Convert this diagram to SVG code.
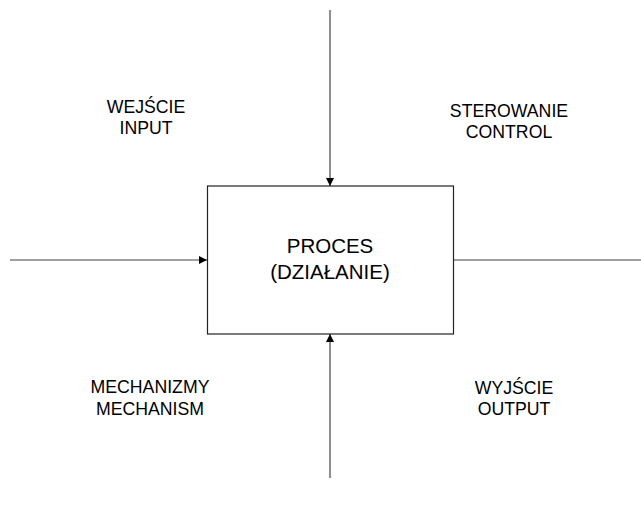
<svg xmlns="http://www.w3.org/2000/svg" width="641" height="506" viewBox="0 0 641 506">
<defs>
<marker id="arr" viewBox="0 0 10 10" refX="10" refY="5" markerWidth="8" markerHeight="8" markerUnits="userSpaceOnUse" orient="auto">
<path d="M0,0 L10,5 L0,10 z" fill="#000"/>
</marker>
<style>
.lbl{font-family:"Liberation Sans",Arial,sans-serif;font-size:17.7px;fill:#000;text-anchor:middle}
.main{font-family:"Liberation Sans",Arial,sans-serif;font-size:20.5px;fill:#000;text-anchor:middle}
.con{stroke:#444;stroke-width:1.2;fill:none}
</style>
</defs>
<rect width="641" height="506" fill="#fff"/>
<g id="connectors">
<line class="con" x1="10" y1="260" x2="207" y2="260" marker-end="url(#arr)"/>
<line class="con" x1="453" y1="260" x2="641" y2="260"/>
<line class="con" x1="330" y1="10" x2="330" y2="186" marker-end="url(#arr)"/>
<line class="con" x1="330" y1="478" x2="330" y2="334" marker-end="url(#arr)"/>
</g>
<g id="process">
<rect x="207.5" y="186" width="246" height="148" fill="#fff" stroke="#222" stroke-width="1.2"/>
<text class="main" x="330" y="253">PROCES</text>
<text class="main" x="330" y="279">(DZIAŁANIE)</text>
</g>
<g id="input">
<text class="lbl" x="146" y="113">WEJŚCIE</text>
<text class="lbl" x="146" y="134">INPUT</text>
</g>
<g id="control">
<text class="lbl" x="509" y="117">STEROWANIE</text>
<text class="lbl" x="509" y="138">CONTROL</text>
</g>
<g id="mechanism">
<text class="lbl" x="150" y="393">MECHANIZMY</text>
<text class="lbl" x="150" y="415">MECHANISM</text>
</g>
<g id="output">
<text class="lbl" x="514" y="394">WYJŚCIE</text>
<text class="lbl" x="514" y="415">OUTPUT</text>
</g>
</svg>
